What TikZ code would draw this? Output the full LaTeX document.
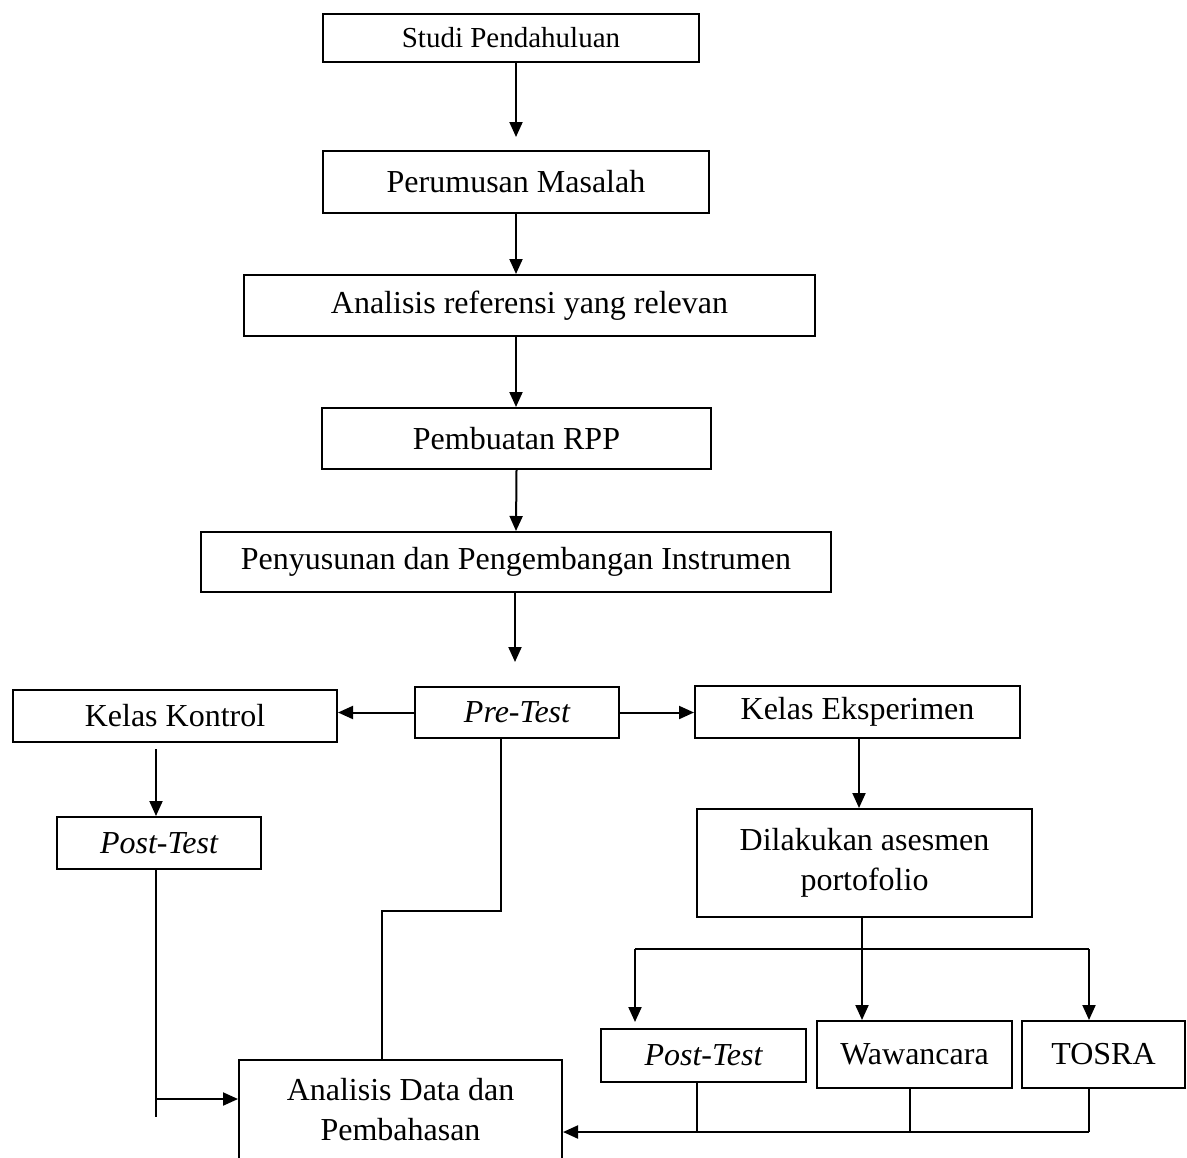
\documentclass[tikz,border=0pt]{standalone}
\usepackage{fontspec}
\setmainfont{Liberation Serif}
\usetikzlibrary{arrows.meta}

\begin{document}
\begin{tikzpicture}[x=0.5pt, y=-0.5pt, >={Triangle[length=7.5pt,width=6.5pt]},
  kotak/.style={draw, line width=1pt, inner sep=0pt, align=center, font=\fontsize{16}{20}\selectfont},
  garis/.style={line width=1pt},
  tipis/.style={line width=0.6pt}]
  \useasboundingbox (0,0) rectangle (1187,1157);

  % alur utama
  \node[kotak, minimum width=188pt, minimum height=24pt, font=\fontsize{14.5}{17}\selectfont] (studi) at (511,38) {Studi Pendahuluan};
  \node[kotak, minimum width=193pt, minimum height=31pt] (rumus) at (516,182) {Perumusan Masalah};
  \node[kotak, minimum width=285.5pt, minimum height=30.5pt] (referensi) at (529.5,305.5) {Analisis referensi yang relevan};
  \node[kotak, minimum width=194.5pt, minimum height=30.5pt] (rpp) at (516.5,438.5) {Pembuatan RPP};
  \node[kotak, minimum width=315pt, minimum height=30pt] (instrumen) at (516,562) {Penyusunan dan Pengembangan Instrumen};

  \node[kotak, minimum width=102pt, minimum height=25.5pt] (pretest) at (517,712.5) {\itshape Pre-Test};
  \node[kotak, minimum width=162pt, minimum height=26pt] (kontrol) at (175,716) {Kelas Kontrol};
  \node[kotak, minimum width=162.5pt, minimum height=26pt] (eksperimen) at (857.5,712) {Kelas Eksperimen};

  \node[kotak, minimum width=102pt, minimum height=26pt] (postA) at (159,843) {\itshape Post-Test};
  \node[kotak, minimum width=167.5pt, minimum height=54pt] (asesmen) at (864.5,863) {Dilakukan asesmen\\portofolio};

  \node[kotak, minimum width=102.5pt, minimum height=26.5pt] (postB) at (703.5,1055.5) {\itshape Post-Test};
  \node[kotak, minimum width=97.5pt, minimum height=33.5pt] (wawancara) at (914.5,1054.5) {Wawancara};
  \node[kotak, minimum width=81.5pt, minimum height=33.5pt] (tosra) at (1103.5,1054.5) {TOSRA};
  \node[kotak, minimum width=161.5pt, minimum height=50pt] (hasil) at (400.5,1110) {Analisis Data dan\\Pembahasan};

  % titik belok
  \coordinate (tengah) at (515,0);
  \coordinate (kanan) at (859,0);
  \coordinate (turun) at (862,0);
  \coordinate (belokA) at (501,911);
  \coordinate (belokB) at (382,911);
  \coordinate (cabKiri) at (635,949);
  \coordinate (cabKanan) at (1089,949);
  \coordinate (ujungA) at (156,1117);
  \coordinate (panahA) at (156,1099);
  \coordinate (gabung) at (1089,1132);
  \coordinate (g1) at (697,1132);
  \coordinate (g2) at (910,1132);

  \draw[->, garis, shorten >=6.5pt] (rumus.north |- studi.south) -- (rumus.north);
  \draw[->, garis] (rumus.south) -- (rumus.south |- referensi.north);
  \draw[->, garis] (rumus.south |- referensi.south) -- (rumus.south |- rpp.north);
  \draw[->, garis] (rpp.south) -- (instrumen.north);
  \draw[->, garis, shorten >=12pt] (tengah |- instrumen.south) -- (tengah |- pretest.north);

  \draw[->, garis] (pretest.west) -- (pretest.west -| kontrol.east);
  \draw[->, garis] (pretest.east) -- (pretest.east -| eksperimen.west);
  \draw[->, garis, shorten <=3pt] (ujungA |- kontrol.south) -- (ujungA |- postA.north);
  \draw[->, garis] (kanan |- eksperimen.south) -- (kanan |- asesmen.north);

  \draw[garis] (belokA |- pretest.south) -- (belokA) -- (belokB) -- (belokB |- hasil.north);
  \draw[tipis] (ujungA |- postA.south) -- (ujungA);
  \draw[->, garis] (panahA) -- (panahA -| hasil.west);

  \draw[->, garis] (turun |- asesmen.south) -- (turun |- wawancara.north);
  \draw[garis] (cabKiri) -- (cabKanan);
  \draw[->, garis, shorten >=3pt] (cabKiri) -- (cabKiri |- postB.north);
  \draw[->, garis] (cabKanan) -- (cabKanan |- tosra.north);

  \draw[tipis] (g1 |- postB.south) -- (g1);
  \draw[tipis] (g2 |- wawancara.south) -- (g2);
  \draw[garis] (gabung |- tosra.south) -- (gabung);
  \draw[->, garis] (gabung) -- (gabung -| hasil.east);
\end{tikzpicture}
\end{document}
